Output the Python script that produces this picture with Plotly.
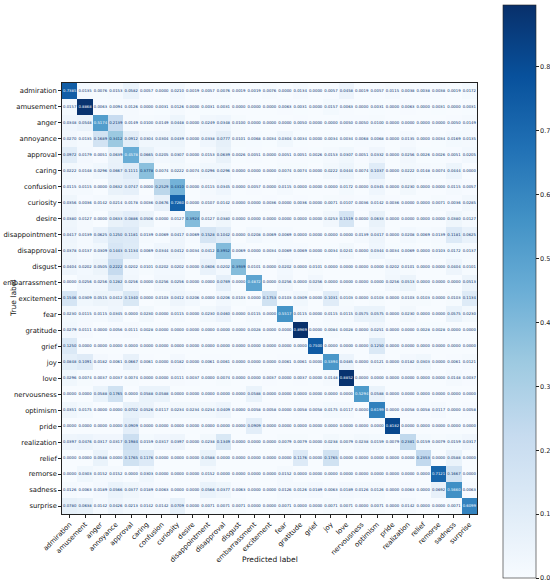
import plotly.graph_objects as go

W, H = 550, 584

labels = ['admiration', 'amusement', 'anger', 'annoyance', 'approval', 'caring',
          'confusion', 'curiosity', 'desire', 'disappointment', 'disapproval',
          'disgust', 'embarrassment', 'excitement', 'fear', 'gratitude', 'grief',
          'joy', 'love', 'nervousness', 'optimism', 'pride', 'realization',
          'relief', 'remorse', 'sadness', 'surprise']

# normalized confusion matrix, one row per true label
row_admiration = [0.7385, 0.0135, 0.0076, 0.0153, 0.0582, 0.0057, 0.0000, 0.0210, 0.0019, 0.0057,
                  0.0076, 0.0019, 0.0019, 0.0076, 0.0000, 0.0134, 0.0000, 0.0057, 0.0458, 0.0019,
                  0.0057, 0.0115, 0.0038, 0.0038, 0.0038, 0.0019, 0.0172]
row_amusement = [0.0157, 0.8868, 0.0063, 0.0094, 0.0126, 0.0000, 0.0031, 0.0126, 0.0000, 0.0031,
                 0.0031, 0.0000, 0.0000, 0.0000, 0.0063, 0.0031, 0.0000, 0.0157, 0.0063, 0.0000,
                 0.0031, 0.0000, 0.0063, 0.0000, 0.0031, 0.0000, 0.0031]
row_anger = [0.0348, 0.0548, 0.5174, 0.2139, 0.0149, 0.0100, 0.0149, 0.0448, 0.0000, 0.0249,
             0.0348, 0.0100, 0.0000, 0.0000, 0.0000, 0.0050, 0.0000, 0.0000, 0.0050, 0.0050,
             0.0100, 0.0000, 0.0000, 0.0000, 0.0000, 0.0050, 0.0149]
row_annoyance = [0.0270, 0.0135, 0.1689, 0.3412, 0.0912, 0.0304, 0.0304, 0.0439, 0.0000, 0.0338,
                 0.0777, 0.0101, 0.0068, 0.0034, 0.0304, 0.0034, 0.0000, 0.0034, 0.0034, 0.0068,
                 0.0068, 0.0000, 0.0135, 0.0000, 0.0034, 0.0169, 0.0135]
row_approval = [0.0972, 0.0179, 0.0051, 0.0639, 0.4578, 0.0665, 0.0205, 0.0307, 0.0000, 0.0153,
                0.0639, 0.0026, 0.0051, 0.0000, 0.0051, 0.0051, 0.0026, 0.0153, 0.0307, 0.0051,
                0.0332, 0.0000, 0.0256, 0.0026, 0.0026, 0.0051, 0.0205]
row_caring = [0.0222, 0.0148, 0.0296, 0.0667, 0.1111, 0.3778, 0.0074, 0.0222, 0.0074, 0.0296,
              0.0296, 0.0000, 0.0000, 0.0000, 0.0074, 0.0074, 0.0000, 0.0222, 0.0444, 0.0074,
              0.1037, 0.0000, 0.0222, 0.0148, 0.0074, 0.0444, 0.0000]
row_confusion = [0.0115, 0.0115, 0.0000, 0.0632, 0.0747, 0.0000, 0.2529, 0.4310, 0.0000, 0.0115,
                 0.0345, 0.0000, 0.0057, 0.0000, 0.0115, 0.0000, 0.0000, 0.0000, 0.0172, 0.0000,
                 0.0345, 0.0000, 0.0230, 0.0000, 0.0000, 0.0115, 0.0057]
row_curiosity = [0.0356, 0.0036, 0.0142, 0.0214, 0.0178, 0.0036, 0.0676, 0.7260, 0.0000, 0.0107,
                 0.0142, 0.0000, 0.0000, 0.0036, 0.0000, 0.0036, 0.0000, 0.0071, 0.0107, 0.0036,
                 0.0142, 0.0036, 0.0000, 0.0000, 0.0071, 0.0036, 0.0285]
row_desire = [0.0380, 0.0127, 0.0000, 0.0633, 0.0886, 0.0506, 0.0000, 0.0127, 0.3924, 0.0127,
              0.0380, 0.0000, 0.0000, 0.0000, 0.0000, 0.0000, 0.0000, 0.0253, 0.1519, 0.0000,
              0.0633, 0.0000, 0.0000, 0.0000, 0.0000, 0.0380, 0.0127]
row_disappointment = [0.0417, 0.0139, 0.0625, 0.1250, 0.1181, 0.0139, 0.0069, 0.0417, 0.0069, 0.1528,
                      0.1042, 0.0000, 0.0208, 0.0069, 0.0069, 0.0000, 0.0000, 0.0000, 0.0000, 0.0139,
                      0.0417, 0.0000, 0.0208, 0.0069, 0.0139, 0.1181, 0.0625]
row_disapproval = [0.0378, 0.0137, 0.0309, 0.1443, 0.1134, 0.0069, 0.0344, 0.0412, 0.0034, 0.0412,
                   0.3952, 0.0069, 0.0000, 0.0034, 0.0069, 0.0069, 0.0000, 0.0034, 0.0241, 0.0000,
                   0.0344, 0.0034, 0.0069, 0.0000, 0.0103, 0.0172, 0.0137]
row_disgust = [0.0404, 0.0202, 0.0505, 0.2222, 0.0202, 0.0101, 0.0202, 0.0202, 0.0000, 0.0606,
               0.0202, 0.3939, 0.0101, 0.0000, 0.0202, 0.0000, 0.0101, 0.0000, 0.0000, 0.0000,
               0.0000, 0.0202, 0.0101, 0.0000, 0.0000, 0.0404, 0.0101]
row_embarrassment = [0.0000, 0.0256, 0.0256, 0.1282, 0.0256, 0.0000, 0.0256, 0.0256, 0.0000, 0.0000,
                     0.0769, 0.0000, 0.4872, 0.0000, 0.0256, 0.0000, 0.0256, 0.0000, 0.0000, 0.0000,
                     0.0000, 0.0256, 0.0513, 0.0000, 0.0000, 0.0000, 0.0513]
row_excitement = [0.1546, 0.0309, 0.0515, 0.0412, 0.1340, 0.0000, 0.0103, 0.0412, 0.0206, 0.0000,
                  0.0206, 0.0103, 0.0000, 0.1753, 0.0103, 0.0309, 0.0000, 0.1031, 0.0103, 0.0000,
                  0.0103, 0.0000, 0.0103, 0.0103, 0.0000, 0.0103, 0.1134]
row_fear = [0.0230, 0.0115, 0.0115, 0.0345, 0.0000, 0.0230, 0.0000, 0.0115, 0.0000, 0.0230,
            0.0460, 0.0000, 0.0115, 0.0000, 0.5517, 0.0115, 0.0000, 0.0115, 0.0115, 0.0575,
            0.0575, 0.0000, 0.0230, 0.0000, 0.0000, 0.0575, 0.0230]
row_gratitude = [0.0279, 0.0111, 0.0000, 0.0056, 0.0111, 0.0028, 0.0000, 0.0000, 0.0000, 0.0000,
                 0.0000, 0.0000, 0.0028, 0.0000, 0.0000, 0.8969, 0.0000, 0.0084, 0.0028, 0.0000,
                 0.0251, 0.0000, 0.0000, 0.0028, 0.0028, 0.0000, 0.0000]
row_grief = [0.1250, 0.0000, 0.0000, 0.0000, 0.0000, 0.0000, 0.0000, 0.0000, 0.0000, 0.0000,
             0.0000, 0.0000, 0.0000, 0.0000, 0.0000, 0.0000, 0.7500, 0.0000, 0.0000, 0.0000,
             0.1250, 0.0000, 0.0000, 0.0000, 0.0000, 0.0000, 0.0000]
row_joy = [0.0848, 0.1091, 0.0182, 0.0061, 0.0667, 0.0061, 0.0000, 0.0182, 0.0000, 0.0061,
           0.0061, 0.0000, 0.0000, 0.0000, 0.0061, 0.0061, 0.0000, 0.5394, 0.0485, 0.0000,
           0.0121, 0.0000, 0.0182, 0.0303, 0.0000, 0.0061, 0.0121]
row_love = [0.0296, 0.0074, 0.0037, 0.0037, 0.0074, 0.0000, 0.0000, 0.0111, 0.0037, 0.0000,
            0.0074, 0.0000, 0.0000, 0.0037, 0.0000, 0.0037, 0.0000, 0.0148, 0.8852, 0.0000,
            0.0000, 0.0000, 0.0000, 0.0000, 0.0000, 0.0148, 0.0037]
row_nervousness = [0.0000, 0.0000, 0.0588, 0.1765, 0.0000, 0.0588, 0.0588, 0.0000, 0.0000, 0.0000,
                   0.0000, 0.0000, 0.0588, 0.0000, 0.0000, 0.0000, 0.0000, 0.0000, 0.0000, 0.5294,
                   0.0588, 0.0000, 0.0000, 0.0000, 0.0000, 0.0000, 0.0000]
row_optimism = [0.0351, 0.0175, 0.0000, 0.0000, 0.0702, 0.0526, 0.0117, 0.0234, 0.0234, 0.0234,
                0.0409, 0.0000, 0.0058, 0.0058, 0.0000, 0.0058, 0.0058, 0.0175, 0.0117, 0.0000,
                0.6199, 0.0000, 0.0058, 0.0058, 0.0117, 0.0000, 0.0058]
row_pride = [0.0000, 0.0000, 0.0000, 0.0000, 0.0909, 0.0000, 0.0000, 0.0000, 0.0000, 0.0000,
             0.0000, 0.0000, 0.0909, 0.0000, 0.0000, 0.0000, 0.0000, 0.0000, 0.0000, 0.0000,
             0.0000, 0.8182, 0.0000, 0.0000, 0.0000, 0.0000, 0.0000]
row_realization = [0.0397, 0.0476, 0.0317, 0.0317, 0.1984, 0.0159, 0.0317, 0.0397, 0.0000, 0.0238,
                   0.1349, 0.0000, 0.0000, 0.0000, 0.0079, 0.0079, 0.0000, 0.0238, 0.0079, 0.0238,
                   0.0159, 0.0079, 0.2381, 0.0159, 0.0079, 0.0159, 0.0317]
row_relief = [0.0000, 0.0000, 0.0588, 0.0000, 0.1765, 0.1176, 0.0000, 0.0000, 0.0000, 0.0588,
              0.0000, 0.0000, 0.0000, 0.0000, 0.0000, 0.1176, 0.0000, 0.1765, 0.0000, 0.0000,
              0.0000, 0.0000, 0.0000, 0.2353, 0.0000, 0.0588, 0.0000]
row_remorse = [0.0000, 0.0303, 0.0152, 0.0152, 0.0000, 0.0303, 0.0000, 0.0000, 0.0000, 0.0152,
               0.0000, 0.0000, 0.0000, 0.0000, 0.0152, 0.0000, 0.0000, 0.0000, 0.0000, 0.0000,
               0.0000, 0.0000, 0.0000, 0.0000, 0.7121, 0.1667, 0.0000]
row_sadness = [0.0126, 0.0063, 0.0189, 0.0566, 0.0377, 0.0189, 0.0063, 0.0000, 0.0000, 0.0566,
               0.0377, 0.0063, 0.0000, 0.0000, 0.0126, 0.0126, 0.0189, 0.0063, 0.0189, 0.0126,
               0.0126, 0.0000, 0.0063, 0.0000, 0.0692, 0.5660, 0.0063]
row_surprise = [0.0780, 0.0638, 0.0142, 0.0426, 0.0213, 0.0142, 0.0142, 0.0709, 0.0000, 0.0071,
                0.0071, 0.0071, 0.0000, 0.0000, 0.0071, 0.0000, 0.0000, 0.0071, 0.0071, 0.0000,
                0.0071, 0.0000, 0.0142, 0.0000, 0.0000, 0.0071, 0.6099]

cm = [row_admiration, row_amusement, row_anger, row_annoyance, row_approval, row_caring,
      row_confusion, row_curiosity, row_desire, row_disappointment, row_disapproval,
      row_disgust, row_embarrassment, row_excitement, row_fear, row_gratitude, row_grief,
      row_joy, row_love, row_nervousness, row_optimism, row_pride, row_realization,
      row_relief, row_remorse, row_sadness, row_surprise]

# matplotlib "Blues"
blues = [[0.0, '#f7fbff'], [0.125, '#deebf7'], [0.25, '#c6dbef'], [0.375, '#9ecae1'],
         [0.5, '#6baed6'], [0.625, '#4292c6'], [0.75, '#2171b5'], [0.875, '#08519c'],
         [1.0, '#08306b']]

zmin = min(min(r) for r in cm)
zmax = max(max(r) for r in cm)
thresh = (zmax + zmin) / 2.0
n = len(labels)


def px(x):
    return x / W


def py(y):
    return 1 - y / H


# plot box, pixels
x0, x1 = 62, 477
y0, y1 = 83, 514
# colorbar box, pixels
cb_x0, cb_x1 = 503, 536
cb_y0, cb_y1 = 5, 578

fig = go.Figure()
fig.add_trace(go.Heatmap(
    z=cm, x=labels, y=labels, zmin=zmin, zmax=zmax, colorscale=blues,
    hoverinfo='skip',
    colorbar=dict(
        x=px(cb_x0), xanchor='left', xpad=0, ypad=0,
        y=py(cb_y1), yanchor='bottom', lenmode='pixels', len=cb_y1 - cb_y0,
        thicknessmode='pixels', thickness=cb_x1 - cb_x0,
        outlinecolor='#222', outlinewidth=0.6,
        tickvals=[0.0, 0.1, 0.2, 0.3, 0.4, 0.5, 0.6, 0.7, 0.8],
        ticktext=['0.0', '0.1', '0.2', '0.3', '0.4', '0.5', '0.6', '0.7', '0.8'],
        ticks='outside', ticklen=3, tickcolor='#222',
        tickfont=dict(size=6.5, color='#222'),
    ),
))

# cell values
tx, ty, tt, tc = [], [], [], []
for i, r in enumerate(cm):
    for j, v in enumerate(r):
        tx.append(labels[j])
        ty.append(labels[i])
        tt.append(f"{v:.4f}")
        tc.append('#f7fbff' if v >= thresh else '#08306b')
fig.add_trace(go.Scatter(
    x=tx, y=ty, text=tt, mode='text', hoverinfo='skip', showlegend=False,
    textfont=dict(size=3.8, color=tc, family='DejaVu Sans'),
))

axis_common = dict(
    type='category', showgrid=False, zeroline=False, automargin=False,
    showline=True, linecolor='#222', linewidth=0.6, mirror=True,
    ticks='outside', ticklen=3, tickcolor='#222',
    tickfont=dict(size=6.8, color='#111'),
)
fig.update_xaxes(domain=[px(x0), px(x1)], range=[-0.5, n - 0.5], tickangle=-45,
                 **axis_common)
fig.update_yaxes(domain=[py(y1), py(y0)], range=[n - 0.5, -0.5], **axis_common)

fig.add_annotation(text='Predicted label', x=px((x0 + x1) / 2), y=py(566),
                   xref='paper', yref='paper', showarrow=False,
                   font=dict(size=7.5, color='#111'))
fig.add_annotation(text='True label', x=px(7), y=py((y0 + y1) / 2),
                   xref='paper', yref='paper', showarrow=False, textangle=-90,
                   font=dict(size=7.5, color='#111'))

fig.update_layout(
    width=W, height=H,
    margin=dict(l=0, r=0, t=0, b=0, autoexpand=False),
    paper_bgcolor='white', plot_bgcolor='white',
    font=dict(family='DejaVu Sans'),
    showlegend=False,
)

# drop the default page margin so the figure sits at the window's corner
fig.write_html("out.html",
               config={'displayModeBar': False},
               post_script="document.body.style.margin='0';"
                           "document.body.style.overflow='hidden';")
